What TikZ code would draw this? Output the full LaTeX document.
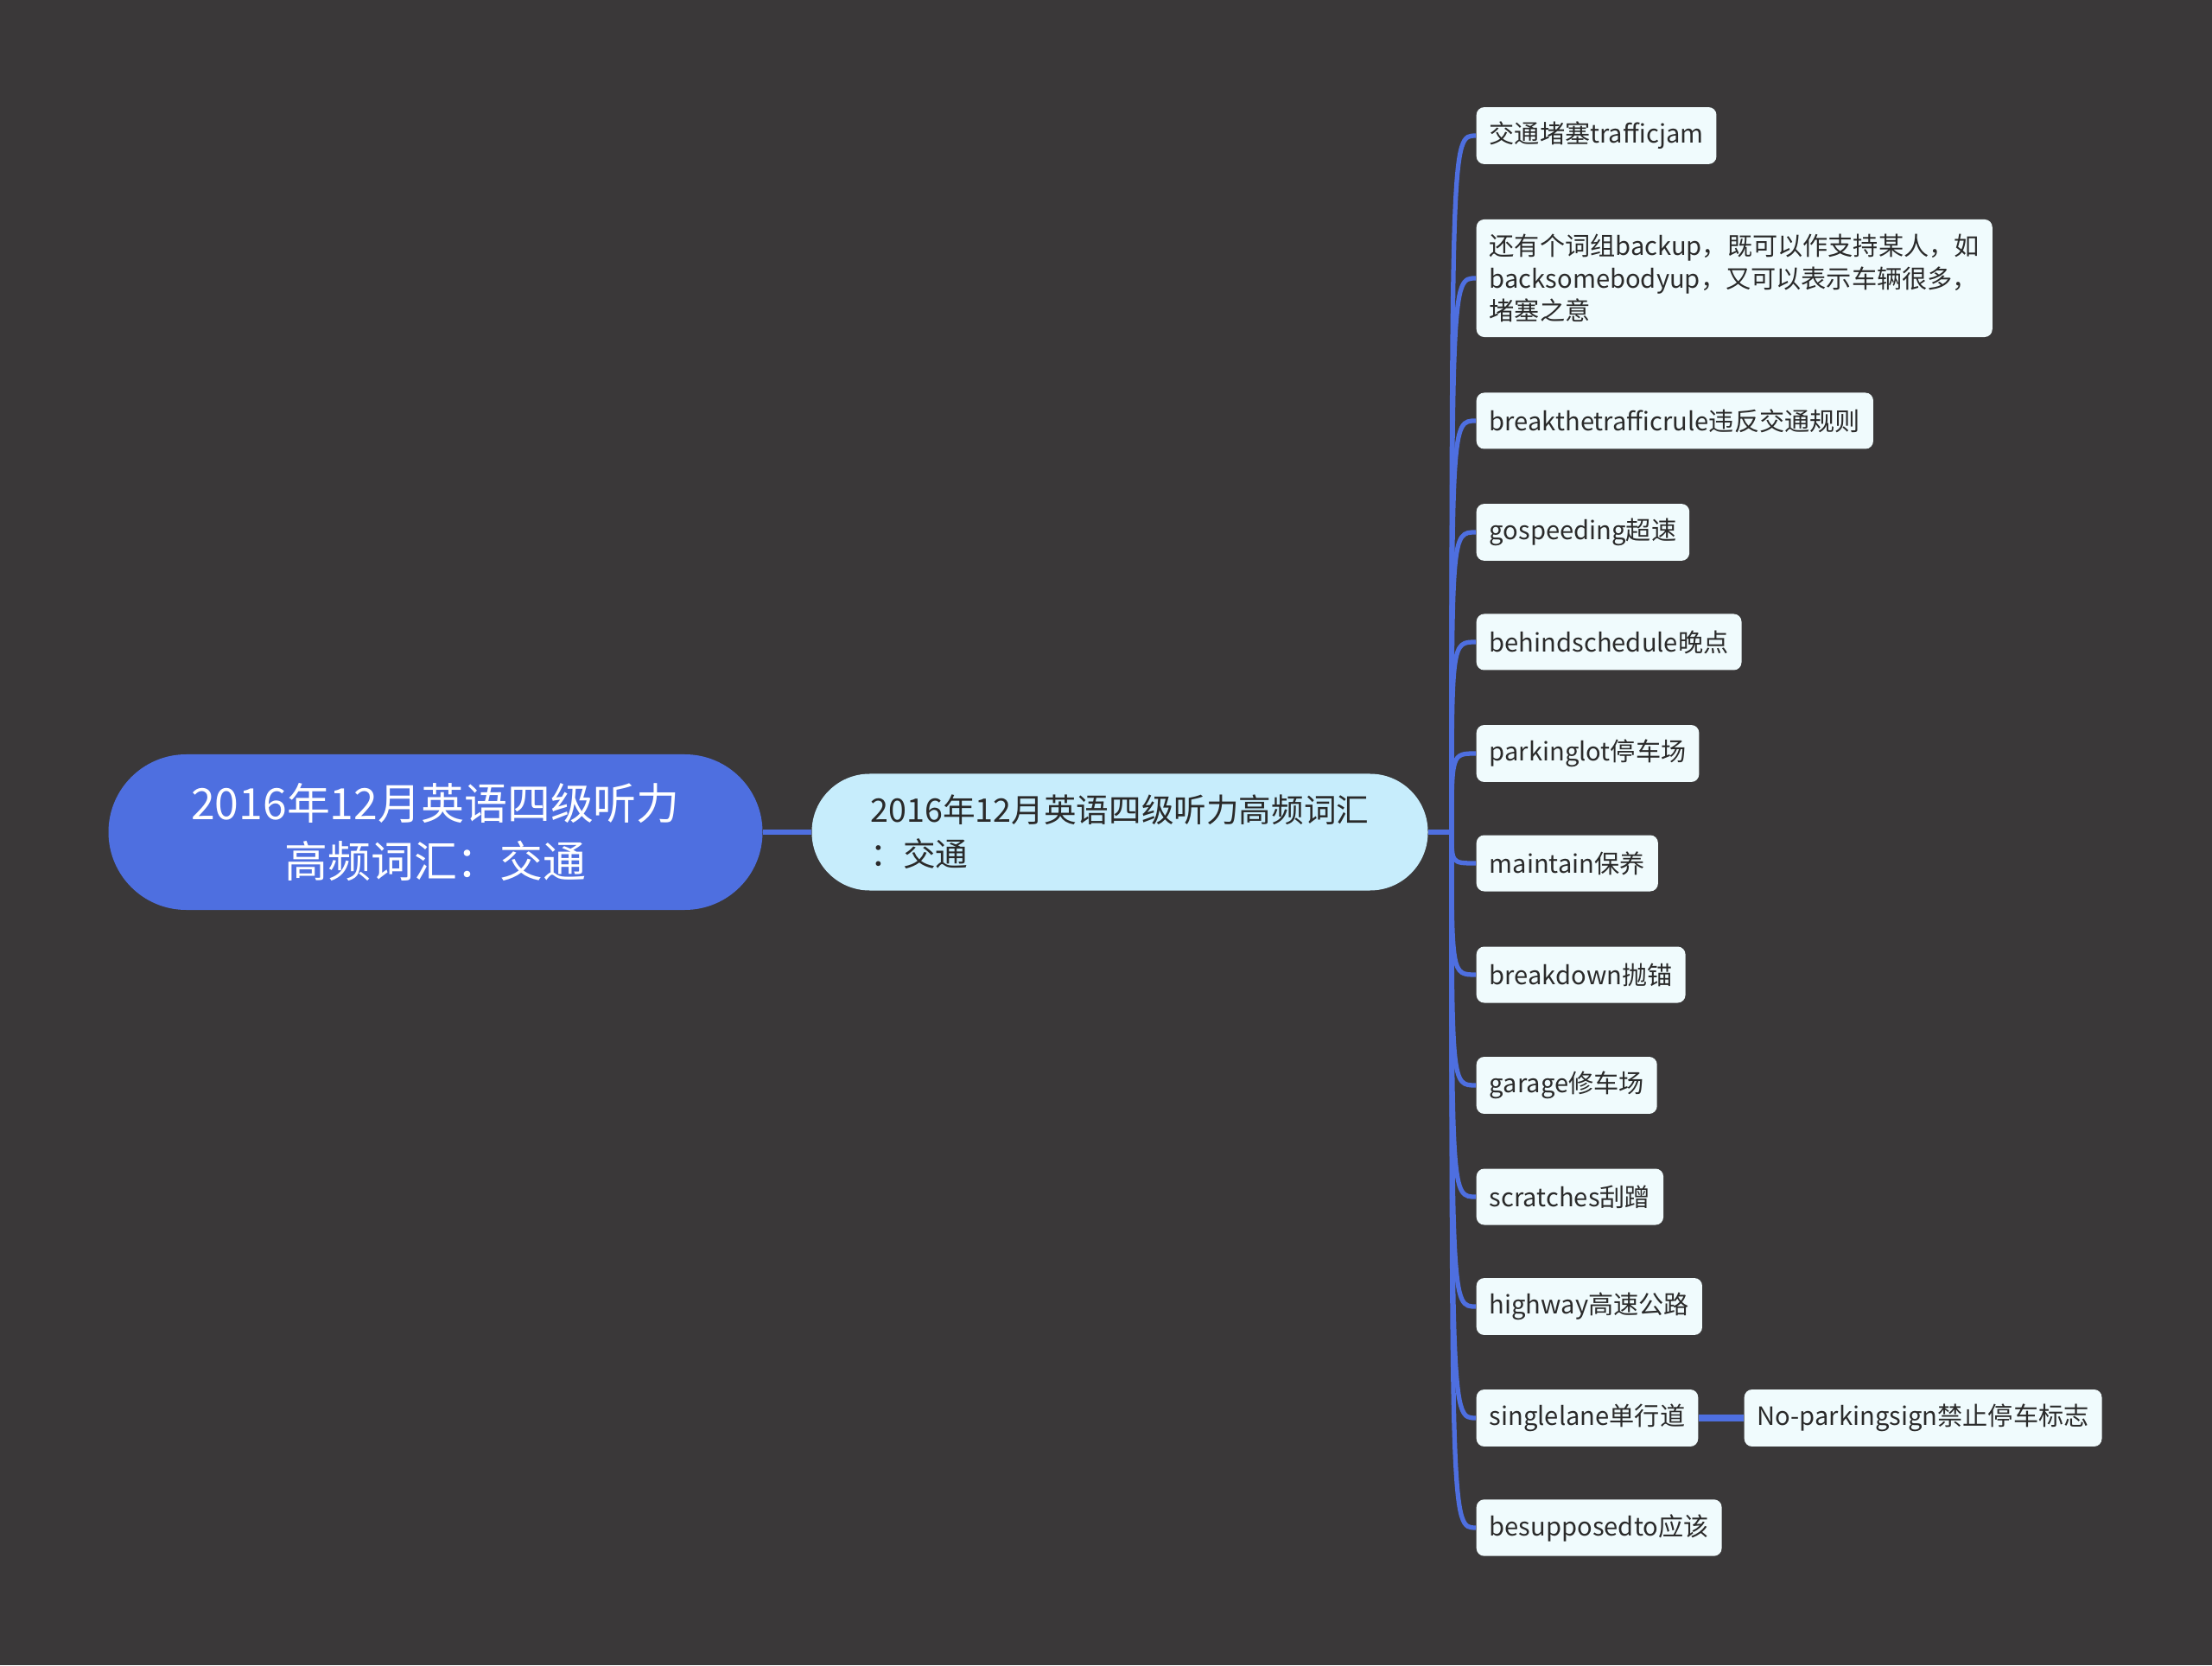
\documentclass[tikz,border=0pt]{standalone}
\usepackage{fontspec}
\setmainfont{Noto Sans CJK SC}
\usepackage{xcolor}
\usepackage{tikz}
\usetikzlibrary{calc}
\definecolor{bgdark}{HTML}{3A3839}
\definecolor{rootblue}{HTML}{4E6FE0}
\definecolor{mainsky}{HTML}{C7EDFC}
\definecolor{leaffill}{HTML}{F0FBFD}
\definecolor{inkdark}{HTML}{2A2A2A}
\tikzset{
  rootbox/.style={fill=rootblue,rounded corners=0.9cm,minimum width=7.57cm,
                  minimum height=1.80cm,align=center,text=white,inner sep=0pt,
                  font=\fontsize{14.2}{19}\selectfont},
  topic/.style={fill=mainsky,rounded corners=0.67cm,minimum width=7.13cm,
                minimum height=1.35cm,align=left,text=inkdark,inner sep=0pt,
                font=\fontsize{10.7}{14.5}\selectfont},
  leaf/.style={fill=leaffill,rounded corners=0.09cm,minimum height=0.65cm,
               align=left,text=inkdark,inner xsep=0.15cm,inner ysep=0.17cm,
               anchor=west,font=\fontsize{8.3}{10.7}\selectfont},
  link/.style={draw=rootblue,line width=1.8pt},
  twig/.style={draw=rootblue,line width=1.5pt}
}

\begin{document}
\begin{tikzpicture}
  \fill[bgdark] (0,0) rectangle (25.6,19.27);
  \useasboundingbox (0,0) rectangle (25.6,19.27);

  \node[rootbox] (root) at (5.04,9.64) {2016年12月英语四级听力\\高频词汇：交通};
  \node[topic] (topic) at (12.96,9.64) {2016年12月英语四级听力高频词汇\\：交通};
  \draw[link] (root.east) -- (topic.west);
  \coordinate (fork) at (16.80,9.64);
  \draw[twig] (topic.east) -- (fork);

  \node[leaf] (jam)      at (17.08,17.70) {交通堵塞trafficjam};
  \node[leaf] (backup)   at (17.08,16.05) {还有个词组backup，既可以作支持某人，如\\backsomebodyup，又可以表示车辆很多，\\堵塞之意};
  \node[leaf] (rule)     at (17.08,14.40) {breakthetrafficrule违反交通规则};
  \node[leaf] (speeding) at (17.08,13.11) {gospeeding超速};
  \node[leaf] (behind)   at (17.08,11.84) {behindschedule晚点};
  \node[leaf] (parking)  at (17.08,10.55) {parkinglot停车场};
  \node[leaf] (maintain) at (17.08,9.28)  {maintain保养};
  \node[leaf] (breakdown) at (17.08,7.99) {breakdown抛锚};
  \node[leaf] (garage)   at (17.08,6.71)  {garage修车场};
  \node[leaf] (scratch)  at (17.08,5.42)  {scratches刮蹭};
  \node[leaf] (highway)  at (17.08,4.15)  {highway高速公路};
  \node[leaf] (lane)     at (17.08,2.86)  {singlelane单行道};
  \node[leaf] (supposed) at (17.08,1.59)  {besupposedto应该};
  \node[leaf] (nopark)   at (20.18,2.86)  {No-parkingsign禁止停车标志};

  % fan from the fork to every leaf
  \draw[twig] (fork) .. controls (fork |- jam.west) .. (jam.west);
  \draw[twig] (fork) .. controls (fork |- backup.west) .. (backup.west);
  \draw[twig] (fork) .. controls (fork |- rule.west) .. (rule.west);
  \draw[twig] (fork) .. controls (fork |- speeding.west) .. (speeding.west);
  \draw[twig] (fork) .. controls (fork |- behind.west) .. (behind.west);
  \draw[twig] (fork) .. controls (fork |- parking.west) .. (parking.west);
  \draw[twig] (fork) .. controls (fork |- maintain.west) .. (maintain.west);
  \draw[twig] (fork) .. controls (fork |- breakdown.west) .. (breakdown.west);
  \draw[twig] (fork) .. controls (fork |- garage.west) .. (garage.west);
  \draw[twig] (fork) .. controls (fork |- scratch.west) .. (scratch.west);
  \draw[twig] (fork) .. controls (fork |- highway.west) .. (highway.west);
  \draw[twig] (fork) .. controls (fork |- lane.west) .. (lane.west);
  \draw[twig] (fork) .. controls (fork |- supposed.west) .. (supposed.west);
  \draw[link,line width=2.2pt] (lane.east) -- (nopark.west);
\end{tikzpicture}
\end{document}
